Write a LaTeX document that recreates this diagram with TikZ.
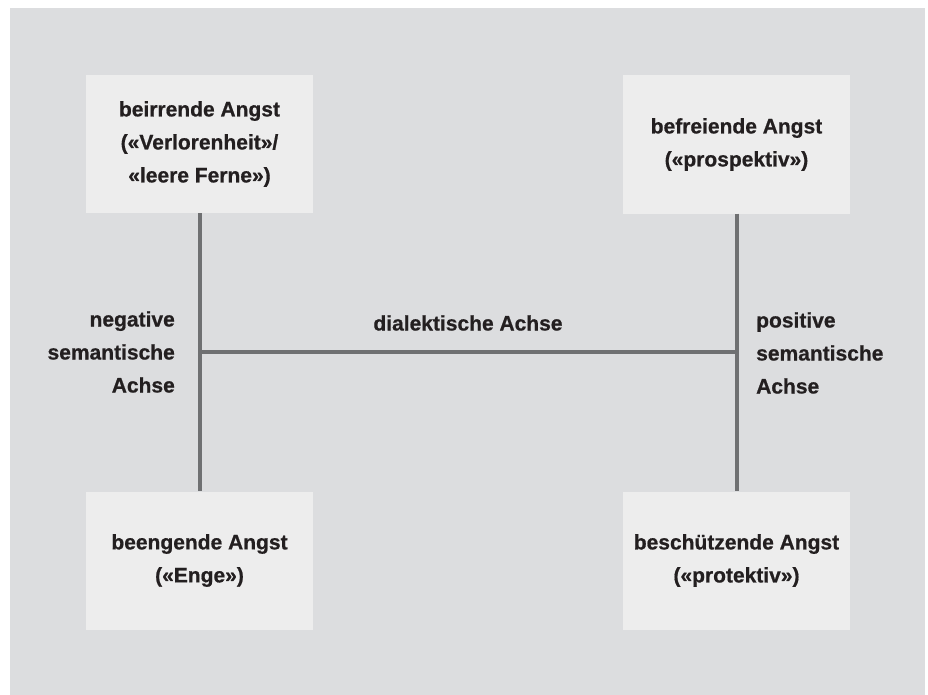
\documentclass[tikz,border=0pt]{standalone}
\usepackage{fontspec}
\setmainfont{Liberation Sans}[BoldFeatures={FakeBold=0.7}]
\usepackage{tikz}
\usetikzlibrary{positioning,calc}
\definecolor{bggray}{HTML}{DCDDDF}
\definecolor{boxgray}{HTML}{EDEDED}
\definecolor{axisgray}{HTML}{6F7072}
\definecolor{textblack}{HTML}{231F20}

\begin{document}
\begin{tikzpicture}[x=1pt,y=-1pt,
  anxbox/.style={fill=boxgray,minimum width=227pt,minimum height=138pt,align=center,inner sep=0pt},
  axislabel/.style={inner sep=0pt},
  axisline/.style={draw=axisgray,line width=4pt},
  font=\fontsize{21}{33}\selectfont\bfseries, text=textblack]
\useasboundingbox (0,0) rectangle (928,695);
\fill[bggray] (10,8) rectangle (925,695);

% the four forms of fear
\node[anxbox] (beirrend) at (199.5,144) {beirrende Angst\\(«Verlorenheit»/\\«leere Ferne»)};
\node[anxbox] (befreiend) at (736.5,144.5) {befreiende Angst\\(«prospektiv»)};
\node[anxbox] (beengend) at (199.5,560.5) {beengende Angst\\(«Enge»)};
\node[anxbox] (beschuetzend) at (736.5,560.5) {beschützende Angst\\(«protektiv»)};

% axes
\draw[axisline] (beirrend.south) -- (beengend.north);
\draw[axisline] (befreiend.south) -- (beschuetzend.north);
\coordinate (negax) at (beirrend.south |- 0,352);
\coordinate (posax) at (befreiend.south |- 0,352);
\draw[axisline] (negax) -- (posax);

\node[axislabel,align=right,anchor=east] (neglabel) at (175,352) {negative\\semantische\\Achse};
\node[axislabel,align=left,anchor=west] (poslabel) at (756,353) {positive\\semantische\\Achse};
\node[axislabel] (dialabel) at ($(negax)!0.5!(posax)+(0,-29)$) {dialektische Achse};
\end{tikzpicture}
\end{document}
